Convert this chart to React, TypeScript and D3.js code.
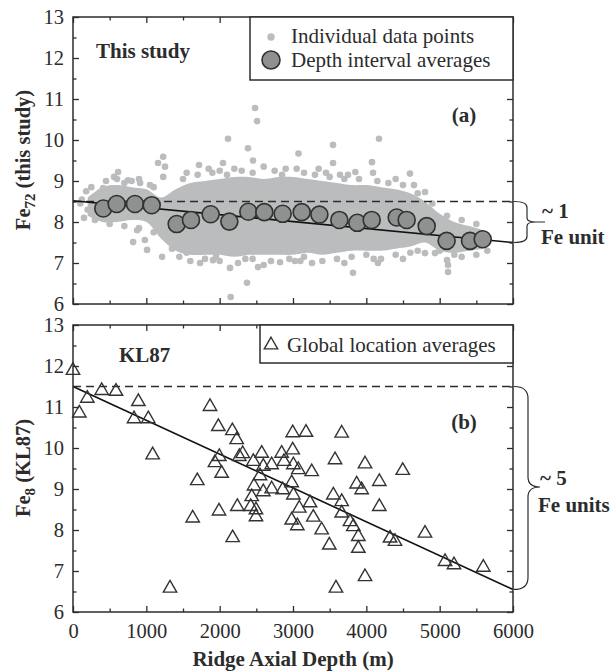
import React, { useEffect, useRef } from 'react';
import * as d3 from 'd3';

// ---- panel (a): this study ----
// dense core of the individual data cloud (depth m, upper / lower Fe72)
const envDepth = [200, 400, 600, 800, 1000, 1200, 1400, 1600, 1800, 2000, 2200, 2400, 2600, 2800, 3000, 3200, 3400, 3600, 3800, 4000, 4200, 4400, 4600, 4800, 5000, 5200, 5400, 5600];
const envTop = [8.6, 8.85, 8.9, 8.85, 8.8, 8.6, 8.8, 8.95, 9.0, 9.05, 9.1, 9.1, 9.05, 9.1, 9.1, 9.05, 9.0, 8.95, 8.9, 8.9, 8.85, 8.8, 8.7, 8.5, 8.2, 8.0, 7.9, 7.8];
const envBottom = [8.15, 8.0, 8.0, 8.05, 8.0, 7.6, 7.3, 7.2, 7.2, 7.2, 7.15, 7.2, 7.2, 7.2, 7.2, 7.25, 7.2, 7.25, 7.3, 7.3, 7.3, 7.35, 7.4, 7.5, 7.3, 7.25, 7.3, 7.35];

// scattered individual points around the core
const individualPts: [number, number][] = [
  [120, 8.55], [180, 8.75], [250, 8.85], [330, 8.54], [370, 8.73], [410, 8.83], [465, 8.1], [615, 9.22],
  [750, 9.02], [700, 8.95], [820, 7.51], [875, 7.8], [915, 8.95], [980, 7.56], [1010, 7.32], [1050, 8.9],
  [1160, 9.44], [1215, 7.15], [1230, 9.59], [1255, 9.35], [1230, 9.1], [560, 9.1], [900, 9.05], [1100, 8.85],
  [200, 8.3], [150, 8.1], [300, 8.15], [1300, 7.7], [1350, 7.35],
  [1718, 9.39], [2045, 9.44], [2114, 10.03], [2386, 9.8], [2455, 9.5], [2482, 10.78], [2509, 10.46],
  [3075, 9.67], [3546, 9.88], [3546, 9.44], [3641, 9.15], [3850, 9.22], [4077, 9.46], [4091, 9.2],
  [4173, 10.03], [4595, 9.18], [4800, 8.73], [1850, 9.3], [2600, 9.35], [3350, 9.3], [2200, 9.3],
  [1732, 7.0], [1909, 7.07], [2141, 6.88], [2373, 6.52], [2150, 6.17], [2523, 6.9], [2823, 7.02],
  [3027, 7.05], [3259, 7.0], [3818, 6.76], [4159, 7.0], [5100, 7.07], [5114, 6.95], [5114, 6.78],
  [4800, 7.24], [4936, 7.24], [5345, 7.39],
  [1500, 9.05], [1700, 9.15], [1900, 9.2], [2100, 9.15], [2300, 9.25], [2750, 9.25], [2900, 9.3],
  [3150, 9.2], [3300, 9.15], [3500, 9.1], [3700, 9.05], [3900, 9.05], [4300, 8.95], [4500, 8.9],
  [4700, 8.7], [4900, 8.45], [5100, 8.15], [5300, 8.05], [5500, 7.95], [800, 9.0], [600, 9.05],
  [450, 9.0], [100, 8.45],
  [1450, 7.15], [1600, 7.05], [1800, 7.1], [2000, 7.05], [2250, 7.0], [2450, 7.1], [2700, 7.05],
  [2950, 7.1], [3150, 7.15], [3400, 7.05], [3600, 7.1], [3800, 7.15], [4000, 7.2], [4200, 7.1],
  [4400, 7.2], [4600, 7.25], [5000, 7.3], [5300, 7.15], [5500, 7.2], [5650, 7.3], [1100, 7.75],
  [900, 7.85], [700, 7.9], [500, 7.95], [300, 8.05],
  [1550, 9.2], [2000, 9.25], [2450, 9.2], [2850, 9.15], [3050, 9.3], [3450, 9.2], [3750, 9.15],
  [4150, 9.0], [4400, 9.05], [4650, 8.9], [1550, 7.25], [1950, 7.15], [2350, 7.1], [2600, 6.95],
  [3100, 7.05], [3700, 7.0], [4100, 7.1], [4500, 7.1], [4700, 7.3], [5200, 7.2],
];

// depth interval averages
const avgDepth = [413, 596, 845, 1073, 1414, 1609, 1877, 2132, 2391, 2609, 2859, 3118, 3360, 3632, 3877, 4073, 4414, 4550, 4823, 5095, 5414, 5587];
const avgFe = [8.33, 8.44, 8.44, 8.41, 7.95, 8.05, 8.19, 8.01, 8.25, 8.24, 8.2, 8.24, 8.18, 8.05, 7.98, 8.05, 8.11, 8.05, 7.9, 7.54, 7.54, 7.58];

const fitA: [number, number][] = [[0, 8.52], [6000, 7.5]];
const refA = 8.5;

// ---- panel (b): KL87 global location averages ----
const kl87Pts: [number, number][] = [
  [0, 11.89], [86, 10.85], [195, 11.21], [391, 11.4], [586, 11.38], [891, 11.13], [832, 10.71], [1027, 10.71],
  [1086, 9.83], [1323, 6.58], [1632, 8.29], [1695, 9.2], [1868, 11.01], [1982, 10.52], [1936, 9.64], [1995, 9.79],
  [2027, 9.38], [1991, 8.46], [2173, 10.42], [2232, 10.2], [2241, 8.57], [2177, 7.81], [2268, 9.79], [2314, 9.86],
  [2459, 9.67], [2437, 8.81], [2423, 8.57], [2495, 8.49], [2495, 8.32], [2468, 9.07], [2573, 9.87], [2550, 9.32],
  [2595, 9.55], [2595, 8.93], [2709, 9.59], [2709, 9.0], [2845, 9.87], [2877, 9.67], [2859, 8.98], [2996, 9.95],
  [2996, 10.37], [3005, 9.59], [3005, 8.85], [2982, 9.15], [2982, 8.24], [3059, 8.1], [3073, 9.47], [3086, 8.53],
  [3177, 10.38], [3255, 9.42], [3232, 8.66], [3277, 8.31],
  [3664, 10.36], [3573, 9.71], [3982, 9.61], [4496, 9.45], [4177, 9.18], [3868, 9.12], [3936, 8.98], [3550, 8.85],
  [3664, 8.69], [4177, 8.57], [3664, 8.41], [3777, 8.2], [3823, 8.08], [3391, 8.0], [3891, 7.84], [3891, 7.55],
  [3495, 7.63], [4323, 7.8], [4391, 7.72], [4800, 7.92], [3982, 6.86], [3586, 6.58], [5073, 7.23], [5195, 7.15],
  [5595, 7.09],
];
const fitB: [number, number][] = [[0, 11.5], [6000, 6.55]];
const refB = 11.5;

const xTicks = [0, 1000, 2000, 3000, 4000, 5000, 6000];
const yTicks = [6, 7, 8, 9, 10, 11, 12, 13];

const SERIF = '"Liberation Serif", "Times New Roman", serif';
const INK = '#2c2c2c';
const DOT = '#bbbcbe';

export default function App() {
  const ref = useRef<SVGSVGElement>(null);

  useEffect(() => {
    const svg = d3.select(ref.current);
    svg.selectAll('*').remove();

    const x = d3.scaleLinear().domain([0, 6000]).range([73, 513]);
    const yA = d3.scaleLinear().domain([6, 13]).range([304, 17]);
    const yB = d3.scaleLinear().domain([6, 13]).range([612, 325]);

    const drawFrame = (y: d3.ScaleLinear<number, number>, showX: boolean) => {
      const g = svg.append('g');
      const [y0, y1] = y.range();
      const minorX = d3.range(500, 6000, 1000);
      const minorY = d3.range(6.5, 13, 1);

      g.append('g').attr('transform', `translate(0,${y0})`)
        .call(d3.axisBottom(x).tickValues(xTicks).tickSize(-6).tickPadding(11)
          .tickFormat(showX ? (d3.format('d') as any) : () => ''));
      g.append('g').attr('transform', `translate(0,${y0})`)
        .call(d3.axisBottom(x).tickValues(minorX).tickSize(-3.5).tickFormat(() => ''));
      g.append('g').attr('transform', `translate(0,${y1})`)
        .call(d3.axisTop(x).tickValues(xTicks).tickSize(-6).tickFormat(() => ''));
      g.append('g').attr('transform', `translate(0,${y1})`)
        .call(d3.axisTop(x).tickValues(minorX).tickSize(-3.5).tickFormat(() => ''));
      g.append('g').attr('transform', `translate(73,0)`)
        .call(d3.axisLeft(y).tickValues(yTicks).tickSize(-6).tickPadding(9).tickFormat(d3.format('d') as any));
      g.append('g').attr('transform', `translate(73,0)`)
        .call(d3.axisLeft(y).tickValues(minorY).tickSize(-3.5).tickFormat(() => ''));
      g.append('g').attr('transform', `translate(513,0)`)
        .call(d3.axisRight(y).tickValues(yTicks).tickSize(-6).tickFormat(() => ''));
      g.append('g').attr('transform', `translate(513,0)`)
        .call(d3.axisRight(y).tickValues(minorY).tickSize(-3.5).tickFormat(() => ''));

      g.selectAll('.domain').remove();
      g.selectAll('.tick line').attr('stroke', INK).attr('stroke-width', 1.3);
      g.selectAll('.tick text').attr('fill', INK).style('font-family', SERIF).style('font-size', '20.5px');

      g.append('rect')
        .attr('x', 73).attr('y', y1).attr('width', 440).attr('height', y0 - y1)
        .attr('fill', 'none').attr('stroke', INK).attr('stroke-width', 1.5);
    };

    const txt = (xx: number, yy: number, s: string, bold = false, anchor = 'start') =>
      svg.append('text').attr('x', xx).attr('y', yy).text(s)
        .attr('fill', INK).attr('text-anchor', anchor)
        .style('font-family', SERIF).style('font-size', '21px').style('font-weight', bold ? 'bold' : 'normal');

    // ---------- panel (a) ----------
    const area = d3.area<number>()
      .x((_, i) => x(envDepth[i]))
      .y0((_, i) => yA(envBottom[i]))
      .y1((_, i) => yA(envTop[i]))
      .curve(d3.curveCatmullRom);
    svg.append('path').datum(envDepth).attr('d', area).attr('fill', DOT);

    svg.append('g').selectAll('circle').data(individualPts).enter().append('circle')
      .attr('cx', d => x(d[0])).attr('cy', d => yA(d[1])).attr('r', 3.3).attr('fill', DOT);

    svg.append('line')
      .attr('x1', x(0)).attr('x2', x(6000)).attr('y1', yA(refA)).attr('y2', yA(refA))
      .attr('stroke', INK).attr('stroke-width', 1.5).attr('stroke-dasharray', '8,5');

    const line = (y: d3.ScaleLinear<number, number>) =>
      d3.line<[number, number]>().x(d => x(d[0])).y(d => y(d[1]));
    svg.append('path').datum(fitA).attr('d', line(yA)).attr('stroke', '#111').attr('stroke-width', 1.6).attr('fill', 'none');

    svg.append('g').selectAll('circle').data(avgDepth).enter().append('circle')
      .attr('cx', d => x(d)).attr('cy', (_, i) => yA(avgFe[i])).attr('r', 8.5)
      .attr('fill', '#8f9090').attr('stroke', '#2f322d').attr('stroke-width', 1.6);

    drawFrame(yA, false);

    // legend (a)
    svg.append('rect').attr('x', 250).attr('y', 17).attr('width', 263).attr('height', 63)
      .attr('fill', '#fff').attr('stroke', INK).attr('stroke-width', 1.5);
    svg.append('circle').attr('cx', 271).attr('cy', 37).attr('r', 3.7).attr('fill', DOT);
    svg.append('circle').attr('cx', 271).attr('cy', 60).attr('r', 9)
      .attr('fill', '#8f9090').attr('stroke', '#2f322d').attr('stroke-width', 1.6);
    txt(291, 43, 'Individual data points');
    txt(291, 67, 'Depth interval averages');
    txt(96, 58, 'This study', true);
    txt(464, 122, '(a)', true, 'middle');

    // brace (a)
    const braceA = d3.path();
    const t = yA(refA), b = yA(7.5), m = (t + b) / 2;
    braceA.moveTo(514, t);
    braceA.quadraticCurveTo(527, t, 527, t + 6);
    braceA.lineTo(527, m - 4);
    braceA.quadraticCurveTo(527, m, 536, m);
    braceA.lineTo(545, m);
    braceA.moveTo(536, m);
    braceA.quadraticCurveTo(527, m, 527, m + 4);
    braceA.lineTo(527, b - 6);
    braceA.quadraticCurveTo(527, b, 514, b);
    svg.append('path').attr('d', braceA.toString()).attr('fill', 'none').attr('stroke', INK).attr('stroke-width', 1.2);
    txt(542, 218, '~ 1', true);
    txt(541, 244, 'Fe unit', true);

    // y label (a)
    const labA = svg.append('text').attr('transform', 'translate(30,160) rotate(-90)')
      .attr('text-anchor', 'middle').attr('fill', INK)
      .style('font-family', SERIF).style('font-size', '20.5px').style('font-weight', 'bold');
    labA.append('tspan').text('Fe');
    labA.append('tspan').text('72').attr('dy', 5).style('font-size', '15px');
    labA.append('tspan').text(' (this study)').attr('dy', -5);

    // ---------- panel (b) ----------
    svg.append('line')
      .attr('x1', x(0)).attr('x2', x(6000)).attr('y1', yB(refB)).attr('y2', yB(refB))
      .attr('stroke', INK).attr('stroke-width', 1.5).attr('stroke-dasharray', '8,5');
    svg.append('path').datum(fitB).attr('d', line(yB)).attr('stroke', '#111').attr('stroke-width', 1.6).attr('fill', 'none');

    const tri = d3.symbol().type(d3.symbolTriangle).size(78);
    svg.append('g').selectAll('path').data(kl87Pts).enter().append('path')
      .attr('d', tri as any)
      .attr('transform', d => `translate(${x(d[0])},${yB(d[1])})`)
      .attr('fill', 'none').attr('stroke', '#333').attr('stroke-width', 1.4);

    drawFrame(yB, true);

    svg.append('rect').attr('x', 260).attr('y', 325).attr('width', 253).attr('height', 38)
      .attr('fill', '#fff').attr('stroke', INK).attr('stroke-width', 1.5);
    svg.append('path').attr('d', tri as any).attr('transform', 'translate(271,345)')
      .attr('fill', 'none').attr('stroke', '#333').attr('stroke-width', 1.4);
    txt(287, 352, 'Global location averages');
    txt(119, 362, 'KL87', true);
    txt(464, 429, '(b)', true, 'middle');

    // brace (b)
    const braceB = d3.path();
    const tb = yB(refB), bb = yB(6.55), mb = 487;
    braceB.moveTo(514, tb);
    braceB.quadraticCurveTo(528, tb, 528, tb + 12);
    braceB.lineTo(528, mb - 10);
    braceB.quadraticCurveTo(528, mb, 540, mb);
    braceB.moveTo(540, mb);
    braceB.quadraticCurveTo(528, mb, 528, mb + 10);
    braceB.lineTo(528, bb - 12);
    braceB.quadraticCurveTo(528, bb, 514, bb);
    svg.append('path').attr('d', braceB.toString()).attr('fill', 'none').attr('stroke', INK).attr('stroke-width', 1.2);
    txt(540, 485, '~ 5', true);
    txt(538, 512, 'Fe units', true);

    const labB = svg.append('text').attr('transform', 'translate(30,468) rotate(-90)')
      .attr('text-anchor', 'middle').attr('fill', INK)
      .style('font-family', SERIF).style('font-size', '20.5px').style('font-weight', 'bold');
    labB.append('tspan').text('Fe');
    labB.append('tspan').text('8').attr('dy', 5).style('font-size', '15px');
    labB.append('tspan').text(' (KL87)').attr('dy', -5);

    txt(293, 666, 'Ridge Axial Depth (m)', true, 'middle');
  }, []);

  return (
    <svg
      ref={ref}
      width={613}
      height={671}
      style={{ position: 'absolute', left: 0, top: 0, background: '#fff' }}
    />
  );
}
